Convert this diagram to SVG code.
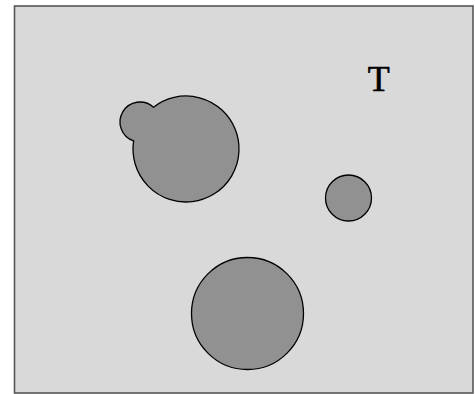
<svg xmlns="http://www.w3.org/2000/svg" width="475" height="394" viewBox="0 0 475 394">
<style>
.blob{fill:#919191;stroke:#000;stroke-width:1.3}
</style>
<rect x="0" y="0" width="475" height="394" fill="#fff"/>
<rect x="14.5" y="6" width="458.5" height="387" fill="#d9d9d9" stroke="#555" stroke-width="1.6"/>
<g id="blob1"><path class="blob" d="M 153.44 107.18 A 53 53 0 1 1 133.62 140.96 A 20 20 0 1 1 153.44 107.18 Z"/></g>
<g id="blob2"><circle class="blob" cx="348.5" cy="198" r="23"/></g>
<g id="blob3"><circle class="blob" cx="247.5" cy="313.5" r="56"/></g>
<text x="378.8" y="91" font-family="Liberation Serif, serif" font-size="36" text-anchor="middle" fill="#000" stroke="#000" stroke-width="0.6">T</text>
</svg>
